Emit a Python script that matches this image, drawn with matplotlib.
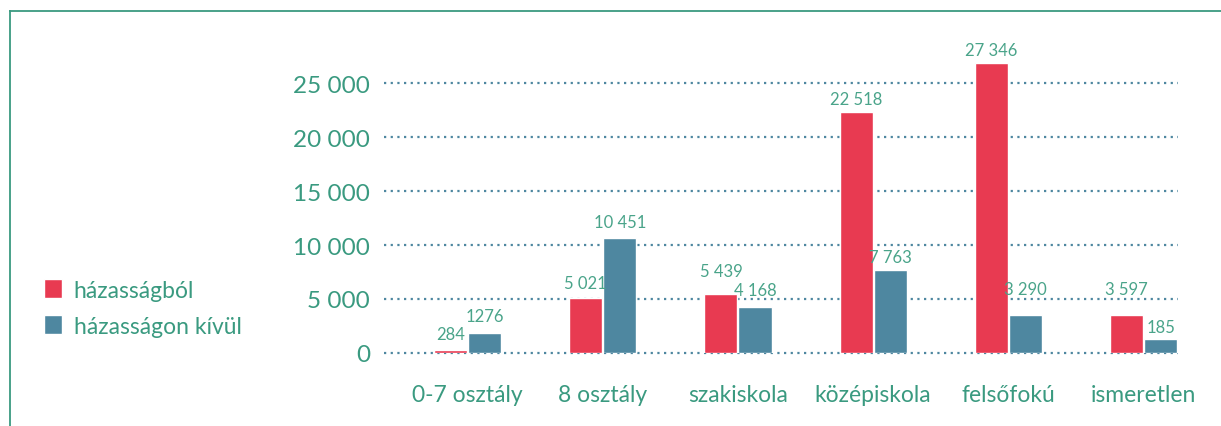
import matplotlib
matplotlib.use("Agg")
import matplotlib.pyplot as plt
from matplotlib.lines import Line2D
import numpy as np

categories = ["0-7 osztály", "8 osztály", "szakiskola", "középiskola", "felsőfokú", "ismeretlen"]
series_names = ["házasságból", "házasságon kívül"]
# bar heights as drawn in the reference
married_heights = [300, 5090, 5460, 22315, 26850, 3520]
unmarried_heights = [1850, 10650, 4260, 7685, 3520, 1300]
# value labels as printed in the reference
married_labels = ["284", "5 021", "5 439", "22 518", "27 346", "3 597"]
unmarried_labels = ["1276", "10 451", "4 168", "7 763", "3 290", "185"]
yticks = [0, 5000, 10000, 15000, 20000, 25000]
ytick_labels = ["0", "5 000", "10 000", "15 000", "20 000", "25 000"]

# label gap above bar top (pixels), as placed in the reference
married_gap = [11, 10, 18, 8, 8, 21]
unmarried_gap = [12, 11, 12, 8, 21, 7]

RED = "#E83A51"
BLUE = "#4E87A0"
GREEN = "#3A9A80"
LABEL_GREEN = "#4AA48A"

plt.rcParams["font.family"] = ["Lato", "DejaVu Sans"]

fig = plt.figure(figsize=(12.21, 4.27), dpi=100)
ax = fig.add_axes([0.3145, 0.171, 0.6503, 0.708])

x = np.arange(len(categories))
w = 0.245
off = 0.126
b1 = ax.bar(x - off, married_heights, width=w, color=RED, edgecolor="white", linewidth=1.0,
            label=series_names[0], zorder=3)
b2 = ax.bar(x + off, unmarried_heights, width=w, color=BLUE, edgecolor="white", linewidth=1.0,
            label=series_names[1], zorder=3)

for bars, labs, gaps in ((b1, married_labels, married_gap), (b2, unmarried_labels, unmarried_gap)):
    for rect, lab, g in zip(bars, labs, gaps):
        ax.annotate(lab, (rect.get_x() + rect.get_width() / 2, rect.get_height()),
                    xytext=(0, g * 0.72), textcoords="offset points", ha="center", va="baseline",
                    fontsize=12, color=LABEL_GREEN, zorder=4)

ax.set_xlim(-0.618, 5.255)
ax.set_ylim(0, 28000)
ax.set_yticks(yticks)
ax.set_yticklabels(ytick_labels, fontsize=17.5, color=GREEN)
ax.set_xticks(x)
ax.set_xticklabels(categories, fontsize=16.5, color=GREEN)
ax.tick_params(axis="y", length=0, pad=10)
ax.tick_params(axis="x", length=0, pad=22)
for s in ax.spines.values():
    s.set_visible(False)
for t in yticks:
    ax.axhline(t, color=BLUE, linestyle=(0, (1, 2)), linewidth=1.6, zorder=1, clip_on=False)

fig.legend(handles=[b1, b2], labels=series_names, loc="center left",
           bbox_to_anchor=(44 / 1221, 0.2763), frameon=False, borderpad=0,
           borderaxespad=0, fontsize=16.5, labelcolor=GREEN, handlelength=0.8,
           handleheight=0.88, handletextpad=0.5, labelspacing=0.65)

# frame lines (top and left)
fig.add_artist(Line2D([10 / 1221, 1.0], [1 - 12 / 427, 1 - 12 / 427], color=GREEN, linewidth=1.3,
                      transform=fig.transFigure))
fig.add_artist(Line2D([10 / 1221, 10 / 1221], [0, 1 - 12 / 427], color=GREEN, linewidth=1.3,
                      transform=fig.transFigure))

fig.savefig("out.png", dpi=100)
